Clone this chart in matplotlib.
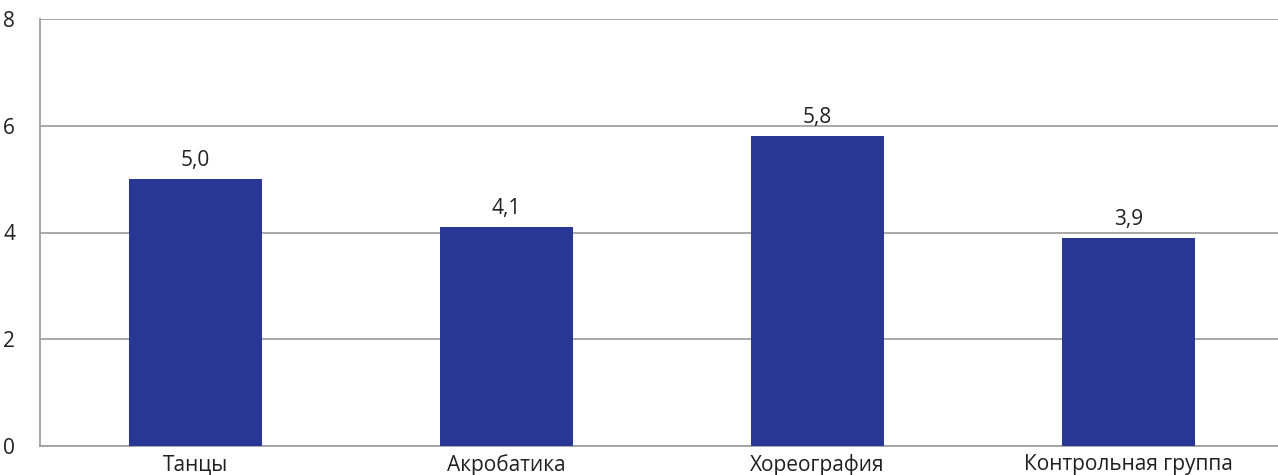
import matplotlib
matplotlib.use("Agg")
import matplotlib.pyplot as plt

categories = ["Танцы", "Акробатика", "Хореография", "Контрольная группа"]
values = [5.0, 4.1, 5.8, 3.9]
value_labels = ["5,0", "4,1", "5,8", "3,9"]
yticks = [0, 2, 4, 6, 8]

plt.rcParams['font.family'] = ['Open Sans', 'DejaVu Sans']
FS = 15

fig = plt.figure(figsize=(12.78, 4.75), dpi=100)
ax = fig.add_axes([40/1278, 29/475, 1244/1278, 427/475])

x = range(len(categories))
ax.bar(x, values, width=0.43, color="#273793", zorder=3)
for xi, v, lab in zip(x, values, value_labels):
    ax.text(xi, v + 0.15, lab, ha="center", va="bottom", fontsize=FS, color="#231f20")

ax.set_xlim(-0.5, 3.5)
ax.set_ylim(0, 8)
ax.set_yticks(yticks)
ax.set_yticklabels([str(t) for t in yticks], fontsize=FS, color="#231f20")
ax.set_xticks(list(x))
ax.set_xticklabels(categories, fontsize=FS, color="#231f20")
ax.tick_params(axis="both", length=0)
ax.tick_params(axis="y", pad=18)
ax.tick_params(axis="x", pad=6)
ax.grid(axis="y", color="#a0a0a0", linewidth=1.3, zorder=0)
for s in ["top", "right"]:
    ax.spines[s].set_visible(False)
ax.spines["left"].set_color("#a0a0a0")
ax.spines["left"].set_linewidth(1.3)
ax.spines["bottom"].set_color("#a0a0a0")
ax.spines["bottom"].set_linewidth(1.3)

fig.savefig("out.png", dpi=100)
